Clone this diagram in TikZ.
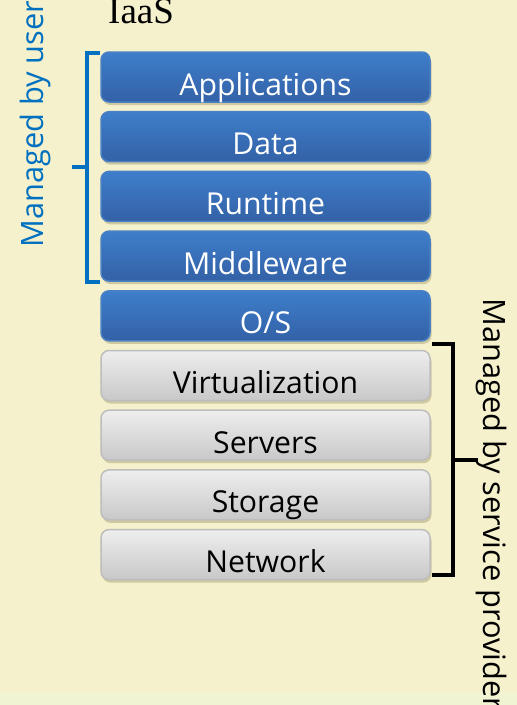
\documentclass[tikz,border=0pt]{standalone}
\usepackage{fontspec}
\setmainfont{Open Sans}
\newfontfamily\titlefont{Liberation Serif}
\usetikzlibrary{shadows,calc}
\definecolor{bg}{HTML}{F5F1CC}
\definecolor{bgband}{HTML}{F0F4D2}
\definecolor{bluetop}{HTML}{3E7ECB}
\definecolor{bluebot}{HTML}{3361A6}
\definecolor{blueedge}{HTML}{4A80C4}
\definecolor{graytop}{HTML}{EEEEEE}
\definecolor{graybot}{HTML}{C8C8C8}
\definecolor{grayedge}{HTML}{BDBDBD}
\definecolor{userblue}{HTML}{0070C0}
\definecolor{shadowcol}{HTML}{8A7F55}
\tikzset{
  layerbox/.style={rounded corners=8pt, minimum width=329pt, minimum height=50pt,
    inner xsep=0pt, inner ysep=0pt, text height=43pt, text depth=7pt,
    line width=1.5pt, font=\fontsize{30.2}{32}\selectfont,
    drop shadow={shadow xshift=1.5pt, shadow yshift=-3pt, opacity=0.35, fill=shadowcol}},
  bluebox/.style={layerbox, draw=blueedge, top color=bluetop, bottom color=bluebot, text=white},
  graybox/.style={layerbox, draw=grayedge, top color=graytop, bottom color=graybot, text=black},
  bracketline/.style={line width=4pt},
  sidetext/.style={inner sep=0pt, font=\fontsize{30.8}{33}\selectfont}
}
\begin{document}
\begin{tikzpicture}[x=1pt,y=-1pt]
\useasboundingbox (0,0) rectangle (517,705);
\clip (0,0) rectangle (517,705);
\fill[bg] (0,0) rectangle (517,705);
\fill[bgband] (0,692) rectangle (517,705);

\node[anchor=base west, inner sep=0pt, font=\titlefont\fontsize{37}{40}\selectfont] (title) at (108,23) {IaaS};

\node[bluebox] (app) at (265.5,77) {Applications};
\node[bluebox] (data) at (265.5,136.7) {Data};
\node[bluebox] (run) at (265.5,196.4) {Runtime};
\node[bluebox] (mid) at (265.5,256.1) {Middleware};
\node[bluebox] (os) at (265.5,315.8) {O/S};
\node[graybox] (virt) at (265.5,375.5) {Virtualization};
\node[graybox] (serv) at (265.5,435.2) {Servers};
\node[graybox] (stor) at (265.5,494.9) {Storage};
\node[graybox] (net) at (265.5,554.6) {Network};

% user bracket
\coordinate (ut) at (100,53);
\coordinate (ub) at (100,282);
\coordinate (utick) at (72,167);
\draw[bracketline, userblue] (ut) -- (87,53) -- (87,282) -- (ub);
\draw[bracketline, userblue] (87,167) -- (utick);
\node[sidetext, text=userblue, rotate=90, anchor=base west] (usertext) at (43,248) {Managed by user};

% provider bracket
\coordinate (pt) at (432,344);
\coordinate (pb) at (432,575);
\coordinate (ptick) at (478,460);
\draw[bracketline, black] (pt) -- (453,344) -- (453,575) -- (pb);
\draw[bracketline, black] (453,460) -- (ptick);
\node[sidetext, text=black, rotate=-90, anchor=base west] (provtext) at (483,298) {Managed by service provider};
\end{tikzpicture}
\end{document}
